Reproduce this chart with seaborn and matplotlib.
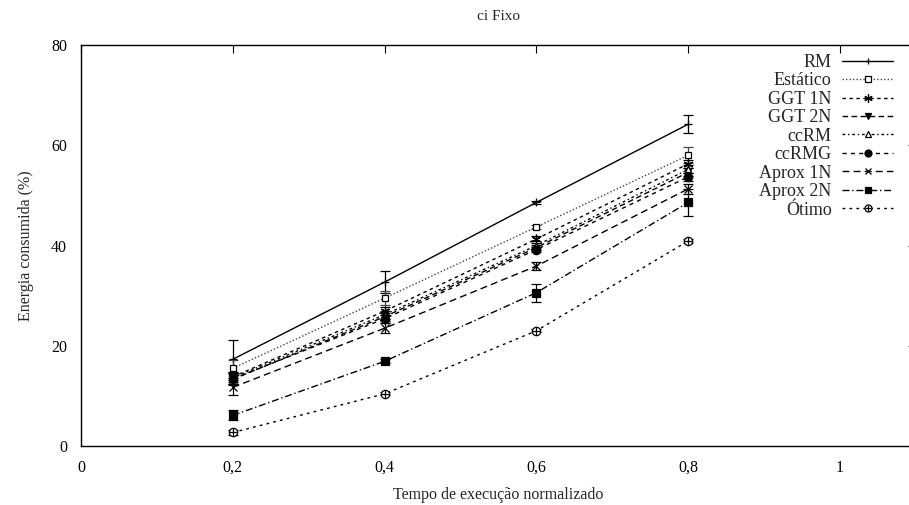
import numpy as np
import pandas as pd
import seaborn as sns
import matplotlib.pyplot as plt
from matplotlib.lines import Line2D

# dados
tempo = [0.2, 0.4, 0.6, 0.8]
series = ['RM', 'Estático', 'GGT 1N', 'GGT 2N', 'ccRM', 'ccRMG',
          'Aprox 1N', 'Aprox 2N', 'Ótimo']
rm = [17.3, 32.7, 48.6, 64.2]
estatico = [15.5, 29.5, 43.7, 58.0]
ggt1n = [13.8, 26.9, 41.3, 56.3]
ggt2n = [13.3, 25.8, 39.6, 54.6]
ccrm = [13.6, 26.2, 40.0, 55.2]
ccrmg = [13.4, 25.4, 39.2, 53.7]
aprox1n = [11.7, 23.5, 35.9, 51.3]
aprox2n = [6.1, 16.9, 30.6, 48.6]
otimo = [2.7, 10.4, 23.0, 40.9]

erro_rm = [3.8, 2.2, 0.3, 1.8]
erro_estatico = [1.6, 1.4, 0.4, 1.6]
erro_ggt1n = [1.0, 0.8, 0.5, 0.8]
erro_ggt2n = [1.2, 0.8, 0.5, 0.8]
erro_ccrm = [1.2, 0.8, 0.5, 0.8]
erro_ccrmg = [1.0, 0.8, 0.5, 0.8]
erro_aprox1n = [1.5, 1.0, 0.8, 1.0]
erro_aprox2n = [1.0, 0.4, 1.8, 2.7]
erro_otimo = [0.5, 0.3, 0.3, 0.4]

valores = [rm, estatico, ggt1n, ggt2n, ccrm, ccrmg, aprox1n, aprox2n, otimo]
erros = [erro_rm, erro_estatico, erro_ggt1n, erro_ggt2n, erro_ccrm,
         erro_ccrmg, erro_aprox1n, erro_aprox2n, erro_otimo]

# estilo de cada serie (parecido com gnuplot)
estilos = {
    'RM': dict(ls='-', marker='+', ms=6, mfc='black', color='black'),
    'Estático': dict(ls=(0, (1, 1.5)), marker='s', ms=5, mfc='white', color='#444444'),
    'GGT 1N': dict(ls=(0, (2.5, 2.5)), marker=(6, 2, 0), ms=7, mfc='black', color='black'),
    'GGT 2N': dict(ls=(0, (4, 2.5)), marker='v', ms=5, mfc='black', color='black'),
    'ccRM': dict(ls=(0, (2, 2, 1, 2)), marker='^', ms=5, mfc='white', color='black'),
    'ccRMG': dict(ls=(0, (3, 3)), marker='o', ms=6, mfc='black', color='black'),
    'Aprox 1N': dict(ls=(0, (5, 3)), marker='x', ms=6, mfc='black', color='black'),
    'Aprox 2N': dict(ls=(0, (5, 2, 1, 2)), marker='s', ms=6, mfc='black', color='black'),
    'Ótimo': dict(ls=(0, (2, 3)), marker='o', ms=6, mfc='white', color='black'),
}

df = pd.DataFrame({
    'Tempo': np.tile(tempo, len(series)),
    'Energia': np.concatenate(valores),
    'Erro': np.concatenate(erros),
    'Serie': np.repeat(series, len(tempo)),
})

sns.set_style('white')
plt.rcParams['font.family'] = ['Liberation Serif', 'DejaVu Serif']

fig = plt.figure(figsize=(9.09, 5.05), dpi=100)
ax = fig.add_axes([81 / 909, 59 / 505, (916 - 81) / 909, 401 / 505])

handles = []
for nome in series:
    st = estilos[nome]
    d = df[df['Serie'] == nome]
    ax.errorbar(d['Tempo'], d['Energia'], yerr=d['Erro'], fmt='none',
                ecolor=st['color'], elinewidth=0.9, capsize=3.5, capthick=0.9)
    sns.lineplot(x=d['Tempo'].values, y=d['Energia'].values, ax=ax,
                 color=st['color'], linestyle=st['ls'], linewidth=1.0,
                 marker=st['marker'], markersize=st['ms'],
                 markerfacecolor=st['mfc'], markeredgecolor='black',
                 markeredgewidth=0.9, legend=False)
    h = Line2D([], [], color=st['color'], linestyle=st['ls'],
               linewidth=1.0, marker=st['marker'],
               markersize=st['ms'] - 1, markerfacecolor=st['mfc'],
               markeredgecolor='black', markeredgewidth=0.9)
    if nome == 'Ótimo':
        # circulo com cruz (oplus)
        ax.plot(d['Tempo'], d['Energia'], ls='none', marker='+', ms=6,
                mec='black', mew=0.9)
        h = (h, Line2D([], [], ls='none', marker='+', ms=5, mec='black', mew=0.9))
    handles.append(h)

ax.set_xlim(0, 1.1)
ax.set_ylim(0, 80)
ax.set_xticks([0, 0.2, 0.4, 0.6, 0.8, 1.0])
ax.set_xticklabels(['0', '0,2', '0,4', '0,6', '0,8', '1'])
ax.set_yticks([0, 20, 40, 60, 80])
ax.tick_params(direction='in', top=True, right=True, length=6, width=0.8,
               labelsize=11.5, colors='black', pad=10)
for s in ax.spines.values():
    s.set_color('black')
    s.set_linewidth(1.0)

ax.set_xlabel('Tempo de execução normalizado', fontsize=11.5, labelpad=8)
ax.set_ylabel('Energia consumida (%)', fontsize=11.5, labelpad=12)
ax.set_title('ci Fixo', fontsize=11, pad=18)

fig.legend(handles=handles, labels=series, loc='upper right',
           bbox_to_anchor=(902 / 909, 1 - 45 / 505),
           frameon=False, markerfirst=False, fontsize=13, handlelength=2.8,
           handletextpad=0.6, labelspacing=0.08, borderpad=0)

fig.savefig('out.png', dpi=100)
